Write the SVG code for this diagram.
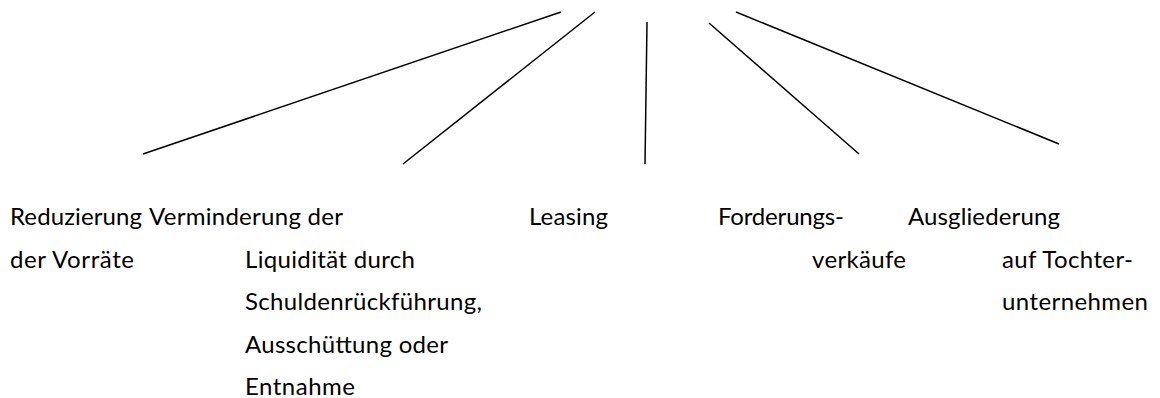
<svg xmlns="http://www.w3.org/2000/svg" width="1160" height="398" viewBox="0 0 1160 398">
<style>
  text { font-family: "Lato", "Open Sans", "Liberation Sans", sans-serif; font-size: 24px; fill: #000; }
  .c line { stroke: #000; stroke-width: 1.5; stroke-linecap: butt; }
</style>
<rect width="1160" height="398" fill="#fff"/>
<g id="connectors" class="c">
  <line x1="561" y1="12" x2="143" y2="154"/>
  <line x1="595" y1="12" x2="403" y2="164"/>
  <line x1="647" y1="22" x2="645" y2="164"/>
  <line x1="709" y1="23" x2="859" y2="154"/>
  <line x1="736" y1="12" x2="1059" y2="144"/>
</g>
<g id="node-vorraete">
  <text x="10" y="225" textLength="132">Reduzierung</text>
  <text x="10" y="267.5" textLength="124">der Vorräte</text>
</g>
<g id="node-liquiditaet">
  <text x="149" y="225" textLength="194">Verminderung der</text>
  <text x="245" y="267.5" textLength="170">Liquidität durch</text>
  <text x="245" y="310" textLength="237">Schuldenrückführung,</text>
  <text x="245" y="352.5" textLength="203">Ausschüttung oder</text>
  <text x="245" y="394.5" textLength="110">Entnahme</text>
</g>
<g id="node-leasing">
  <text x="529" y="225" textLength="79">Leasing</text>
</g>
<g id="node-forderungen">
  <text x="718" y="225" textLength="126">Forderungs-</text>
  <text x="812" y="267.5" textLength="94">verkäufe</text>
</g>
<g id="node-ausgliederung">
  <text x="908" y="225" textLength="152">Ausgliederung</text>
  <text x="1002" y="267.5" textLength="131">auf Tochter-</text>
  <text x="1002" y="310" textLength="146">unternehmen</text>
</g>
</svg>
